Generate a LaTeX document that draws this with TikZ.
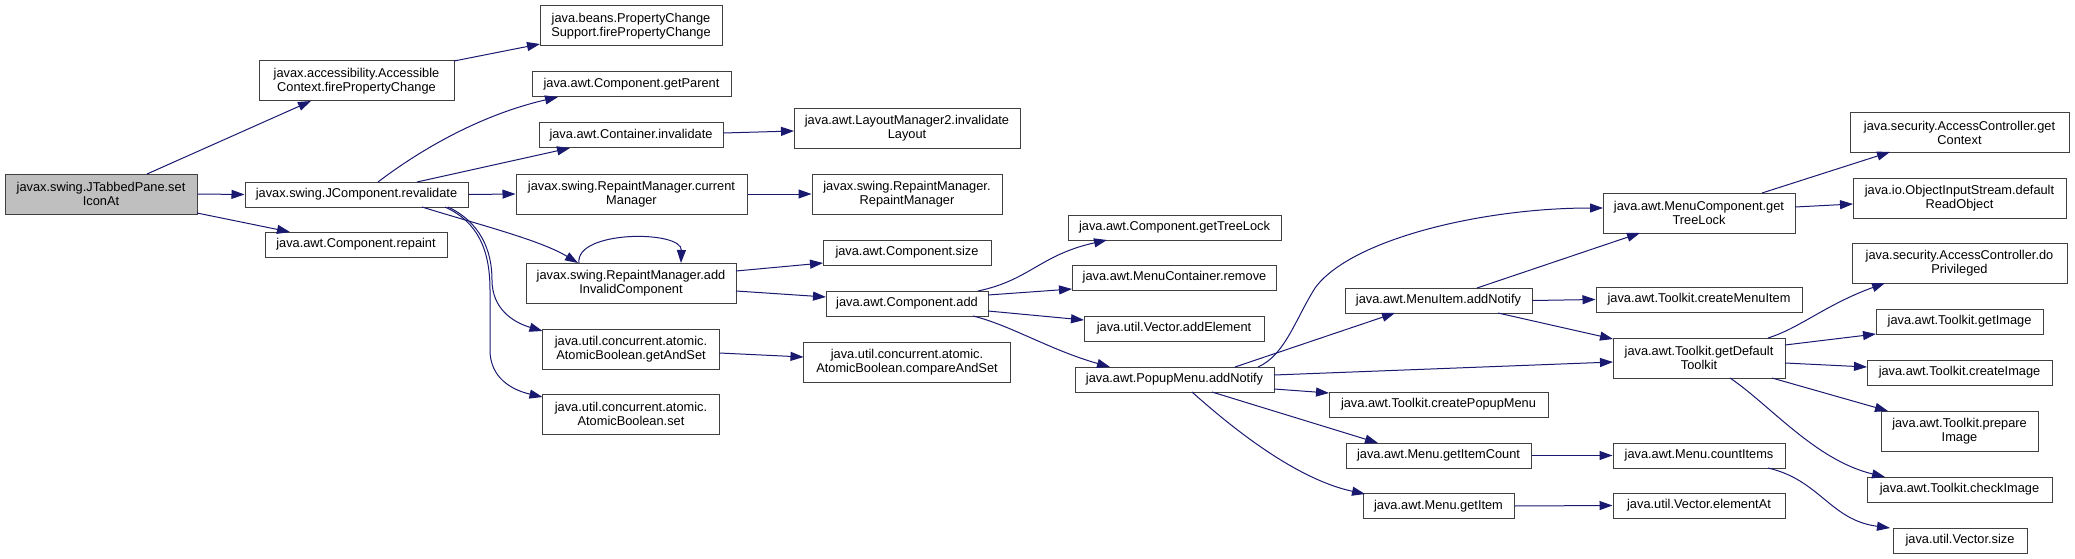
\documentclass[tikz,border=0pt]{standalone}
\usepackage{fontspec}
\setmainfont{Liberation Sans}
\usetikzlibrary{arrows.meta,calc}
\definecolor{edgeblue}{HTML}{191970}
\definecolor{boxgray}{HTML}{404040}
\definecolor{rootfill}{HTML}{BFBFBF}
\tikzset{
  fn/.style={draw=boxgray, line width=1pt, fill=white, inner sep=0pt, align=center,
    font=\fontsize{12.8}{14}\selectfont},
  fnroot/.style={fn, fill=rootfill},
  sz/.style 2 args={minimum width=#1pt, minimum height=#2pt},
  call/.style={draw=edgeblue, line width=1pt, -{Triangle[length=13pt,width=9pt]}},
}
\begin{document}
\begin{tikzpicture}[x=1pt,y=-1pt]
\useasboundingbox (0,0) rectangle (2075,559);
% column 1-2
\node[fnroot, sz={192}{40}] (root) at (101,194) {javax.swing.JTabbedPane.set\\IconAt};
\node[fn, sz={195}{40}] (acc) at (356.5,81) {javax.accessibility.Accessible\\Context.firePropertyChange};
\node[fn, sz={223}{25}] (reval) at (356.5,194.5) {javax.swing.JComponent.revalidate};
\node[fn, sz={182}{25}] (repaint) at (356,244.5) {java.awt.Component.repaint};
% column 3
\node[fn, sz={182}{40}] (pcs) at (631,26) {java.beans.PropertyChange\\Support.firePropertyChange};
\node[fn, sz={199}{25}] (getparent) at (631.5,84.5) {java.awt.Component.getParent};
\node[fn, sz={184}{25}] (cinv) at (631,135.5) {java.awt.Container.invalidate};
\node[fn, sz={231}{40}] (curmgr) at (631.5,194) {javax.swing.RepaintManager.current\\Manager};
\node[fn, sz={210}{40}] (addinv) at (631,283) {javax.swing.RepaintManager.add\\InvalidComponent};
\node[fn, sz={177}{40}] (getandset) at (631,349) {java.util.concurrent.atomic.\\AtomicBoolean.getAndSet};
\node[fn, sz={177}{40}] (abset) at (631,414) {java.util.concurrent.atomic.\\AtomicBoolean.set};
% column 4
\node[fn, sz={226}{40}] (lm2) at (907,128.5) {java.awt.LayoutManager2.invalidate\\Layout};
\node[fn, sz={190}{40}] (rmrm) at (907,194) {javax.swing.RepaintManager.\\RepaintManager};
\node[fn, sz={168}{25}] (csize) at (907,252.5) {java.awt.Component.size};
\node[fn, sz={162}{25}] (cadd) at (907,303.5) {java.awt.Component.add};
\node[fn, sz={207}{40}] (cas) at (907,362) {java.util.concurrent.atomic.\\AtomicBoolean.compareAndSet};
% column 5
\node[fn, sz={213}{25}] (gtl) at (1174.5,227.5) {java.awt.Component.getTreeLock};
\node[fn, sz={204}{25}] (mcrem) at (1174.5,277.5) {java.awt.MenuContainer.remove};
\node[fn, sz={180}{25}] (vadd) at (1174,328.5) {java.util.Vector.addElement};
\node[fn, sz={199}{25}] (popup) at (1174.5,379.5) {java.awt.PopupMenu.addNotify};
% column 6
\node[fn, sz={187}{25}] (miadd) at (1438.5,300.5) {java.awt.MenuItem.addNotify};
\node[fn, sz={219}{25}] (cpm) at (1438.5,404.5) {java.awt.Toolkit.createPopupMenu};
\node[fn, sz={185}{25}] (gic) at (1438.5,455.5) {java.awt.Menu.getItemCount};
\node[fn, sz={151}{25}] (gi) at (1438.5,506) {java.awt.Menu.getItem};
% column 7
\node[fn, sz={192}{40}] (mctl) at (1699,213) {java.awt.MenuComponent.get\\TreeLock};
\node[fn, sz={206}{25}] (cmi) at (1699,299.5) {java.awt.Toolkit.createMenuItem};
\node[fn, sz={172}{40}] (gdt) at (1699,358) {java.awt.Toolkit.getDefault\\Toolkit};
\node[fn, sz={172}{25}] (cnt) at (1699,455.5) {java.awt.Menu.countItems};
\node[fn, sz={172}{25}] (eat) at (1699,505.5) {java.util.Vector.elementAt};
% column 8
\node[fn, sz={219}{40}] (ctx) at (1959.5,132.5) {java.security.AccessController.get\\Context};
\node[fn, sz={213}{40}] (dro) at (1959.5,198) {java.io.ObjectInputStream.default\\ReadObject};
\node[fn, sz={215}{40}] (dop) at (1959.5,263) {java.security.AccessController.do\\Privileged};
\node[fn, sz={167}{25}] (gimg) at (1959.5,321.5) {java.awt.Toolkit.getImage};
\node[fn, sz={185}{25}] (cimg) at (1959.5,372.5) {java.awt.Toolkit.createImage};
\node[fn, sz={157}{40}] (pimg) at (1959.5,431) {java.awt.Toolkit.prepare\\Image};
\node[fn, sz={185}{25}] (chk) at (1959.5,489.5) {java.awt.Toolkit.checkImage};
\node[fn, sz={134}{25}] (vsize) at (1960,540.5) {java.util.Vector.size};

% edges
\draw[call] ($(root)+(46,-20)$) -- ($(acc)+(-45.5,20)$);
\draw[call] (root.east) -- (reval.west);
\draw[call] ($(root)+(96,19)$) -- ($(repaint)+(-66,-12.5)$);
\draw[call] ($(acc)+(97.5,-20)$) -- ($(pcs)+(-91,18)$);
\draw[call] ($(reval)+(21.5,-12.5)$) .. controls (420,150) and (480,115) .. ($(getparent)+(-73.5,12.5)$);
\draw[call] ($(reval)+(60.5,-12.5)$) -- ($(cinv)+(-61,12.5)$);
\draw[call] (reval.east) -- (curmgr.west);
\draw[call] ($(reval)+(65.5,12.5)$) .. controls (480,225) and (540,240) .. ($(addinv)+(-53,-20)$);
\draw[call] ($(reval)+(91.5,12.5)$) .. controls (480,222) and (492,250) .. (492,280)
  .. controls (492,308) and (512,322) .. ($(getandset)+(-88.5,-18)$);
\draw[call] ($(reval)+(88.5,12.5)$) .. controls (478,222) and (490,250) .. (490,290)
  -- (490,350) .. controls (490,378) and (512,390) .. ($(abset)+(-88.5,-17)$);
\draw[call] ($(cinv)+(92,-2.5)$) -- ($(lm2)+(-113,2.5)$);
\draw[call] (curmgr.east) -- (rmrm.west);
\draw[call] ($(addinv)+(-52,-20)$) .. controls (575,230) and (682,230) .. ($(addinv)+(50,-20)$);
\draw[call] ($(addinv)+(105,-12)$) -- ($(csize)+(-84,10.5)$);
\draw[call] ($(addinv)+(105,8)$) -- ($(cadd)+(-81,-6.5)$);
\draw[call] ($(getandset)+(88.5,4)$) -- ($(cas)+(-103.5,-5)$);
\draw[call] ($(cadd)+(71,-12.5)$) .. controls (1030,280) and (1040,255) .. ($(gtl)+(-67.5,12.5)$);
\draw[call] ($(cadd)+(81,-8.5)$) -- ($(mcrem)+(-102.5,11.5)$);
\draw[call] ($(cadd)+(81,7.5)$) -- ($(vadd)+(-90,-8.5)$);
\draw[call] ($(cadd)+(66,12.5)$) .. controls (1010,325) and (1050,350) .. ($(popup)+(-64.5,-12.5)$);
\draw[call] ($(popup)+(83.5,-12.5)$) .. controls (1285,355) and (1295,320) .. (1315,288)
  .. controls (1350,240) and (1480,208) .. ($(mctl)+(-96,-5)$);
\draw[call] ($(popup)+(60.5,-12.5)$) -- ($(miadd)+(-43.5,12.5)$);
\draw[call] ($(popup)+(99.5,-4.5)$) -- ($(gdt)+(-86,4)$);
\draw[call] ($(popup)+(99.5,9.5)$) -- ($(cpm)+(-109.5,-11.5)$);
\draw[call] ($(popup)+(37.5,12.5)$) -- ($(gic)+(-60.5,-12.5)$);
\draw[call] ($(popup)+(17.5,12.5)$) .. controls (1240,435) and (1300,480) .. ($(gi)+(-73.5,-12)$);
\draw[call] ($(miadd)+(38.5,-12.5)$) -- ($(mctl)+(-59,20)$);
\draw[call] (miadd.east) -- (cmi.west);
\draw[call] ($(miadd)+(59.5,12.5)$) -- ($(gdt)+(-86,-19)$);
\draw[call] ($(mctl)+(63,-20)$) -- ($(ctx)+(-69.5,19.5)$);
\draw[call] ($(mctl)+(96,-6)$) -- ($(dro)+(-106.5,6)$);
\draw[call] ($(gdt)+(69,-20)$) .. controls (1800,328) and (1825,305) .. ($(dop)+(-74.5,20)$);
\draw[call] ($(gdt)+(86,-13)$) -- ($(gimg)+(-83.5,12.5)$);
\draw[call] ($(gdt)+(86,5)$) -- ($(cimg)+(-92.5,-5.5)$);
\draw[call] ($(gdt)+(73,20)$) -- ($(pimg)+(-71.5,-20)$);
\draw[call] ($(gdt)+(31,20)$) .. controls (1770,405) and (1815,460) .. ($(chk)+(-74.5,-12.5)$);
\draw[call] (gic.east) -- (cnt.west);
\draw[call] (gi.east) -- (eat.west);
\draw[call] ($(cnt)+(69,12.5)$) .. controls (1820,480) and (1830,520) .. ($(vsize)+(-70,-12.5)$);
\end{tikzpicture}
\end{document}
